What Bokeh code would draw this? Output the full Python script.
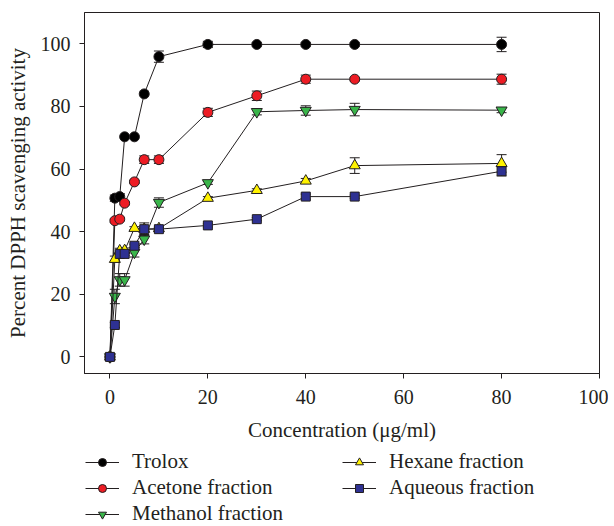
from bokeh.plotting import figure
from bokeh.models import (ColumnDataSource, Whisker, TeeHead, Legend, LegendItem,
                          FixedTicker, Range1d)
from bokeh.layouts import column
from bokeh.embed import file_html
from bokeh.resources import INLINE

# ---- data ----
conc = [0, 1, 2, 3, 5, 7, 10, 20, 30, 40, 50, 80]

trolox = [0, 50.7, 51.2, 70.3, 70.3, 84.0, 95.9, 99.8, 99.8, 99.8, 99.8, 99.8]
trolox_err = [0, 1.0, 1.0, 0, 0, 0, 1.8, 1.0, 0.5, 0.5, 0.5, 2.3]

acetone = [0, 43.5, 44.0, 49.1, 55.9, 63.0, 63.0, 78.1, 83.4, 88.7, 88.7, 88.7]
acetone_err = [0, 0.5, 0.5, 0.5, 0.5, 1.2, 1.2, 1.3, 1.5, 1.3, 0.5, 1.6]

methanol = [0, 19.3, 24.6, 24.6, 33.4, 37.6, 49.3, 55.6, 78.3, 78.7, 79.0, 78.8]
methanol_err = [0, 2.3, 2.0, 2.0, 1.5, 1.5, 1.5, 0.5, 1.0, 1.5, 2.0, 0.8]

hexane = [0, 31.2, 33.9, 34.0, 41.1, 40.8, 41.0, 50.7, 53.2, 56.2, 61.1, 61.8]
hexane_err = [0, 1.0, 0.8, 0.8, 0.5, 0.5, 0.5, 0.5, 0.5, 0.8, 2.5, 2.8]

aqueous = [0, 10.2, 32.9, 32.9, 35.5, 40.8, 40.8, 42.0, 44.0, 51.2, 51.2, 59.3]
aqueous_err = [0, 0.8, 0.5, 0.5, 0.5, 2.0, 0.5, 0.5, 0.5, 0.8, 0.5, 1.5]

x_ticks = [0, 20, 40, 60, 80, 100]
y_ticks = [0, 20, 40, 60, 80, 100]

series = [
    ("Trolox", trolox, trolox_err, "circle", "#000000", 10),
    ("Acetone fraction", acetone, acetone_err, "circle", "#ed1c24", 10),
    ("Methanol fraction", methanol, methanol_err, "inverted_triangle", "#39b54a", 11),
    ("Hexane fraction", hexane, hexane_err, "triangle", "#fff200", 11),
    ("Aqueous fraction", aqueous, aqueous_err, "square", "#2e3192", 9),
]

FONT = "Liberation Serif"
DARK = "#231f20"

p = figure(width=608, height=446, output_backend="svg", toolbar_location=None,
           x_range=Range1d(-5.2, 100), y_range=Range1d(-5.3, 110),
           min_border_left=84, min_border_right=9, min_border_top=12,
           min_border_bottom=73)
p.grid.visible = False
p.outline_line_color = DARK
p.outline_line_width = 1
p.background_fill_color = "white"
p.border_fill_color = "white"

for ax in (p.xaxis[0], p.yaxis[0]):
    ax.axis_line_color = DARK
    ax.major_tick_line_color = DARK
    ax.major_tick_out = 5
    ax.major_tick_in = 0
    ax.minor_tick_line_color = None
    ax.major_label_text_font = FONT
    ax.major_label_text_font_size = "20px"
    ax.major_label_text_color = DARK
    ax.axis_label_text_font = FONT
    ax.axis_label_text_font_size = "21px"
    ax.axis_label_text_font_style = "normal"
    ax.axis_label_text_color = DARK

p.xaxis.ticker = FixedTicker(ticks=x_ticks)
p.yaxis.ticker = FixedTicker(ticks=y_ticks)
p.xaxis.axis_label = "Concentration (μg/ml)"
p.yaxis.axis_label = "Percent DPPH scavenging activity"
p.xaxis.major_label_standoff = 11
p.yaxis.major_label_standoff = 9
p.xaxis.axis_label_standoff = 11
p.yaxis.axis_label_standoff = 8

# legend panel below the chart (its frame is aligned with the chart's frame)
lf = figure(width=608, height=80, output_backend="svg", toolbar_location=None,
            x_range=Range1d(1000, 1001), y_range=Range1d(1000, 1001),
            x_axis_type=None, y_axis_type=None,
            min_border_left=0, min_border_right=0, min_border_top=0,
            min_border_bottom=0)
lf.grid.visible = False
lf.outline_line_color = None

items = []
for name, ys, errs, marker, color, size in series:
    src = ColumnDataSource(dict(x=conc, y=ys))
    ex = [c for c, e in zip(conc, errs) if e > 0]
    eu = [v + e for v, e in zip(ys, errs) if e > 0]
    el = [v - e for v, e in zip(ys, errs) if e > 0]
    esrc = ColumnDataSource(dict(x=ex, upper=eu, lower=el))
    w = Whisker(source=esrc, base="x", upper="upper", lower="lower",
                line_color=DARK, line_width=1, level="underlay",
                upper_head=TeeHead(size=10, line_color=DARK, line_width=1),
                lower_head=TeeHead(size=10, line_color=DARK, line_width=1))
    p.add_layout(w)
    p.line("x", "y", source=src, line_color=DARK, line_width=1)
    p.scatter("x", "y", source=src, marker=marker, size=size,
              fill_color=color, line_color=DARK, line_width=1)
    # legend proxies (in the legend panel, outside its visible range)
    lr = lf.line("x", "y", source=src, line_color=DARK, line_width=1)
    sr = lf.scatter("x", "y", source=src, marker=marker, size=size,
                    fill_color=color, line_color=DARK, line_width=1)
    items.append(LegendItem(label=name, renderers=[lr, sr]))

def make_legend(its, loc):
    return Legend(items=its, location=loc, orientation="vertical",
                  label_text_font=FONT, label_text_font_size="21px",
                  label_text_color=DARK, glyph_width=34, glyph_height=20,
                  label_height=20, label_standoff=13, spacing=1, padding=0,
                  margin=0, border_line_color=None, background_fill_alpha=0)

lf.add_layout(make_legend(items[:3], (1, 0)))
lf.add_layout(make_legend(items[3:], (258, 26)))

layout = column(p, lf, spacing=0)
open("out.html", "w").write(file_html(layout, INLINE))
